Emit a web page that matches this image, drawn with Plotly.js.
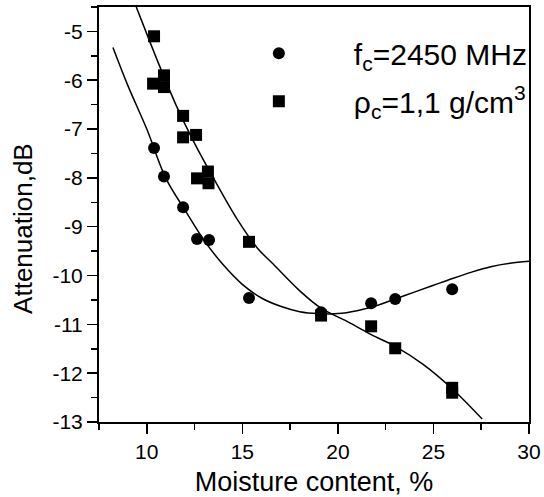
<!DOCTYPE html>
<html>
<head>
<meta charset="utf-8">
<script src="https://cdn.plot.ly/plotly-3.0.1.min.js"></script>
<style>html,body{margin:0;padding:0;background:#fff;}#chart{width:544px;height:497px;}</style>
</head>
<body>
<div id="chart"></div>
<script>
// measured points, series 1: f_c = 2450 MHz (circles)
var freqX = [10.38, 10.9, 11.9, 12.63, 13.26, 15.35, 19.12, 21.74, 23.0, 25.98];
var freqY = [-7.39, -7.97, -8.6, -9.25, -9.27, -10.46, -10.75, -10.57, -10.48, -10.28];
// measured points, series 2: rho_c = 1,1 g/cm3 (squares)
var densX = [10.38, 10.33, 10.9, 10.9, 11.9, 11.9, 12.58, 12.63, 13.2, 13.23, 15.35, 19.12, 21.74, 23.0, 25.98, 25.98];
var densY = [-5.1, -6.07, -5.9, -6.14, -6.73, -7.17, -7.12, -8.01, -7.87, -8.11, -9.31, -10.82, -11.04, -11.49, -12.3, -12.4];
// fitted curve for series 1
var fitFreqX = [8.23, 9, 10, 11, 12, 13, 14, 15, 16, 17, 18, 19, 20, 21, 22, 23, 24, 25, 26, 27, 28, 29, 30];
var fitFreqY = [-5.33, -6.1, -7.0, -8.01, -8.66, -9.28, -9.78, -10.18, -10.46, -10.63, -10.74, -10.78, -10.78, -10.72, -10.62, -10.48, -10.34, -10.2, -10.06, -9.93, -9.82, -9.75, -9.71];
// fitted curve for series 2
var fitDensX = [9.45, 10.2, 10.85, 11.58, 12.42, 13.47, 14.72, 15.77, 16.6, 18.02, 19.12, 20.48, 21.74, 23.0, 24.46, 25.98, 27.55];
var fitDensY = [-4.5, -5.25, -5.88, -6.55, -7.23, -7.99, -8.84, -9.43, -9.76, -10.32, -10.67, -10.94, -11.21, -11.45, -11.82, -12.32, -12.94];
// legend names, axis titles and tick labels
var freqName = "\u00a0\u00a0\u00a0f<sub>c</sub>=2450 MHz";
var densName = "\u00a0\u00a0\u00a0\u03c1<sub>c</sub>=1,1 g/cm<sup>3</sup>";
var xTitle = "Moisture content, %";
var yTitle = "Attenuation,dB";
var xTickVals = [10, 15, 20, 25, 30];
var xTickText = ["10", "15", "20", "25", "30"];
var yTickVals = [-13, -12, -11, -10, -9, -8, -7, -6, -5];
var yTickText = ["-13", "-12", "-11", "-10", "-9", "-8", "-7", "-6", "-5"];

var FONT = "Liberation Sans, Arial, sans-serif";
var traces = [
  {x: fitFreqX, y: fitFreqY, mode: "lines", line: {color: "#000", width: 1.5, shape: "spline"}, showlegend: false, hoverinfo: "skip"},
  {x: fitDensX, y: fitDensY, mode: "lines", line: {color: "#000", width: 1.5, shape: "spline"}, showlegend: false, hoverinfo: "skip"},
  {x: freqX, y: freqY, mode: "markers", name: freqName, legendgroup: "a", marker: {symbol: "circle", size: 12, color: "#000"}},
  {x: densX, y: densY, mode: "markers", name: densName, legendgroup: "b", marker: {symbol: "square", size: 12, color: "#000"}}
];
var axisCommon = {
  showgrid: false, zeroline: false, showline: true, linecolor: "#000", linewidth: 2,
  mirror: true, ticks: "outside", ticklen: 10, tickwidth: 1.5, tickcolor: "#000",
  tickfont: {family: FONT, size: 21, color: "#000"}, tickmode: "array"
};
var layout = {
  width: 544, height: 497,
  margin: {l: 99, r: 15, t: 7, b: 75},
  paper_bgcolor: "#fff", plot_bgcolor: "#fff",
  font: {family: FONT, color: "#000"},
  xaxis: Object.assign({}, axisCommon, {
    range: [7.5, 30], tickvals: xTickVals, ticktext: xTickText,
    minor: {dtick: 2.5, tick0: 0, ticklen: 6, tickwidth: 1.5, tickcolor: "#000", ticks: "outside"},
    title: {text: xTitle, font: {family: FONT, size: 27, color: "#000"}, standoff: 10}
  }),
  yaxis: Object.assign({}, axisCommon, {
    range: [-13, -4.5], tickvals: yTickVals, ticktext: yTickText,
    minor: {dtick: 0.5, tick0: 0, ticklen: 6, tickwidth: 1.5, tickcolor: "#000", ticks: "outside"}
  }),
  annotations: [{
    text: yTitle, xref: "paper", yref: "paper", x: -0.177, y: 0.4675,
    xanchor: "center", yanchor: "middle", textangle: -90, showarrow: false,
    font: {family: FONT, size: 26, color: "#000"}
  }],
  showlegend: true,
  legend: {x: 0.302, xanchor: "left", y: 0.951, yanchor: "top", bgcolor: "rgba(0,0,0,0)",
    borderwidth: 0, itemwidth: 90, traceorder: "grouped", tracegroupgap: 6,
    font: {family: FONT, size: 30, color: "#000"}}
};
Plotly.newPlot("chart", traces, layout, {staticPlot: true, displayModeBar: false});
</script>
</body>
</html>
